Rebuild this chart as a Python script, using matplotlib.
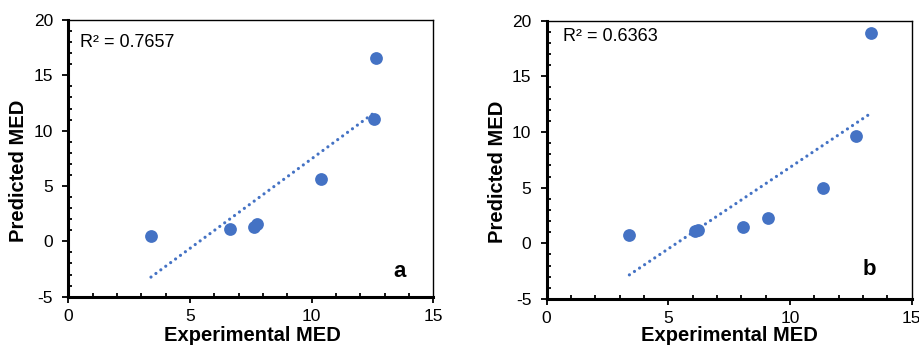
import numpy as np
import matplotlib
matplotlib.use("Agg")
import matplotlib.pyplot as plt
from matplotlib.ticker import MultipleLocator

plt.rcParams["font.family"] = ["Liberation Sans", "DejaVu Sans"]
plt.rcParams["axes.unicode_minus"] = False

# panel a
exp_a = [3.4, 6.65, 7.65, 7.75, 10.4, 12.55, 12.65]
pred_a = [0.45, 1.1, 1.3, 1.55, 5.65, 11.1, 16.55]
r2_a = "R² = 0.7657"

# panel b
exp_b = [3.4, 6.1, 6.2, 8.05, 9.1, 11.35, 12.7, 13.35]
pred_b = [0.75, 1.1, 1.2, 1.5, 2.3, 5.0, 9.6, 18.85]
r2_b = "R² = 0.6363"

BLUE = "#4472C4"


def draw_panel(ax, x, y, r2_text, r2_pos, tag, tag_pos):
    x = np.asarray(x)
    y = np.asarray(y)
    k, b = np.polyfit(x, y, 1)
    xf = np.array([x.min(), x.max()])
    ax.plot(xf, k * xf + b, linestyle=(0, (0.01, 1.9)), color=BLUE,
            linewidth=2.3, dash_capstyle="round", zorder=2)
    ax.plot(x, y, "o", color=BLUE, markersize=9.2, markeredgewidth=0, zorder=3)

    ax.set_xlim(0, 15)
    ax.set_ylim(-5, 20)
    ax.xaxis.set_major_locator(MultipleLocator(5))
    ax.xaxis.set_minor_locator(MultipleLocator(1))
    ax.yaxis.set_major_locator(MultipleLocator(5))
    ax.yaxis.set_minor_locator(MultipleLocator(1))
    ax.tick_params(which="major", direction="out", length=4, width=1.3,
                   labelsize=12.5)
    ax.tick_params(axis="x", which="major", pad=4.5)
    ax.tick_params(axis="y", which="major", pad=7)
    ax.tick_params(which="minor", direction="in", length=3, width=1.3)
    for side in ["left", "bottom"]:
        ax.spines[side].set_linewidth(2.2)
    for side in ["top", "right"]:
        ax.spines[side].set_linewidth(1.0)

    ax.text(r2_pos[0], r2_pos[1], r2_text, fontsize=13, ha="left", va="center")
    ax.text(tag_pos[0], tag_pos[1], tag, fontsize=16, fontweight="bold",
            ha="center", va="center")


fig = plt.figure(figsize=(9.2, 3.45), dpi=100)
ax_a = fig.add_axes([0.0742, 0.140, 0.3967, 0.802])
ax_b = fig.add_axes([0.5942, 0.1333, 0.3967, 0.807])

draw_panel(ax_a, exp_a, pred_a, r2_a, (0.5, 18.0), "a", (13.6, -2.75))
draw_panel(ax_b, exp_b, pred_b, r2_b, (0.68, 18.6), "b", (13.25, -2.35))

for xc, yc in [(19 / 920, 1 - 171 / 345), (497.7 / 920, 1 - 172 / 345)]:
    fig.text(xc, yc, "Predicted MED", rotation=90, fontsize=14.5,
             fontweight="bold", ha="center", va="center")
for xc in [252 / 920, 729.5 / 920]:
    fig.text(xc, 1 - 335.5 / 345, "Experimental MED", fontsize=14.5,
             fontweight="bold", ha="center", va="center")

fig.savefig("out.png", dpi=100)
